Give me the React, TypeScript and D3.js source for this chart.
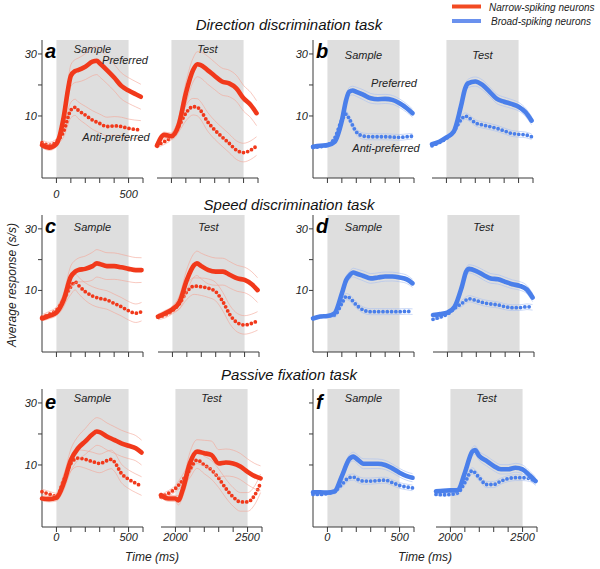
import React from 'react';
import * as d3 from 'd3';

type Pt = [number, number];

// ---------- Data (time in ms, response in s/s) ----------
// Panel a: direction task, narrow-spiking
const aPrefSample: Pt[] = [[-100,0.6],[-50,-0.2],[0,1.0],[50,9.5],[80,18.5],[100,23],[130,24.5],[150,24.8],[200,25.9],[250,27.5],[280,27.8],[300,27],[350,24.8],[400,22.4],[450,19.7],[500,18.2],[550,17],[585,16.2]];
const aAntiSample: Pt[] = [[-100,1.4],[-50,0.6],[0,1.7],[50,5],[100,11.9],[130,12.8],[150,11.9],[200,10.3],[250,8.7],[300,7.6],[350,6.6],[400,6.8],[450,6.6],[500,6],[585,5.5]];
const aPrefTest: Pt[] = [[1900,0.4],[1950,3.9],[2000,3.5],[2050,7.1],[2100,17.3],[2150,24.8],[2180,26.7],[2200,26.5],[2250,24.8],[2300,22.9],[2350,21.1],[2400,20.5],[2450,18.9],[2500,15.7],[2550,13.5],[2590,10.9]];
const aAntiTest: Pt[] = [[1900,0.6],[1950,1.7],[2000,3.3],[2050,6.6],[2100,10.9],[2150,13],[2180,12.8],[2200,11.9],[2250,8.2],[2300,5.5],[2350,3.3],[2400,1.2],[2450,-1],[2500,-1.8],[2550,-1],[2590,0.3]];

// Panel b: direction task, broad-spiking
const bPrefSample: Pt[] = [[-100,0.1],[-50,0.4],[0,0.6],[50,1.7],[100,8.5],[130,15.2],[150,17.8],[175,18.2],[200,17.8],[250,16.8],[300,15.7],[350,15.4],[400,15.5],[450,15.2],[500,14.1],[550,12.5],[590,10.9]];
const bAntiSample: Pt[] = [[-100,-0.2],[-50,0.1],[0,0.6],[50,2.8],[100,8.7],[130,10.6],[150,9.2],[200,4.9],[250,3.5],[300,3.3],[350,3.3],[400,3.3],[450,3.2],[500,3.1],[550,3.3],[590,3.5]];
const bPrefTest: Pt[] = [[1900,0.9],[1950,1.7],[2000,3.1],[2050,4.9],[2100,13],[2130,18.9],[2150,20.5],[2200,21.1],[2250,20],[2300,17.8],[2350,15.5],[2400,14.6],[2450,13.9],[2500,13],[2550,11.1],[2590,8.5]];
const bAntiTest: Pt[] = [[1900,0.4],[1950,1.4],[2000,2.8],[2050,4.9],[2100,8.7],[2130,10],[2150,9.6],[2200,7.8],[2250,7.1],[2300,6.6],[2350,6],[2400,5.2],[2450,4.4],[2500,4.1],[2550,3.9],[2590,3.3]];

// Panel c: speed task, narrow-spiking
const cPrefSample: Pt[] = [[-100,0.9],[-50,1.7],[0,2.8],[50,6.9],[100,14.5],[130,16.1],[150,16.6],[200,17],[250,17.9],[280,18.8],[300,18.6],[350,17.9],[400,17.9],[450,17.5],[500,17],[550,16.6],[590,16.6]];
const cAntiSample: Pt[] = [[-100,1.3],[-50,2.3],[0,3.6],[50,6.9],[100,11.2],[130,12.8],[150,11.8],[200,9.6],[250,8.2],[300,7.4],[350,6.9],[400,5.8],[450,4.7],[500,3.4],[550,2.6],[590,3.1]];
const cPrefTest: Pt[] = [[1900,1.5],[1950,2.6],[2000,3.9],[2050,6.3],[2100,13.4],[2150,18.2],[2170,18.8],[2200,17.9],[2250,16.6],[2300,16.1],[2350,16.1],[2400,15],[2450,13.9],[2500,13.4],[2550,12],[2590,10.1]];
const cAntiTest: Pt[] = [[1900,1.3],[1950,2],[2000,3.4],[2050,5.8],[2100,9.6],[2150,11.4],[2200,11.2],[2250,10.7],[2300,9.6],[2350,6.3],[2400,2],[2450,-0.5],[2500,-1.2],[2550,-0.7],[2590,0.1]];

// Panel d: speed task, broad-spiking
const dPrefSample: Pt[] = [[-100,0.9],[-50,1.5],[0,1.7],[50,2.6],[100,9],[130,13.4],[150,14.7],[180,15.8],[200,15.5],[250,14.7],[300,13.9],[350,14.2],[400,14.5],[450,14.5],[500,14.2],[550,13.6],[590,12.3]];
const dAntiSample: Pt[] = [[-100,0.9],[-50,1.5],[0,1.7],[50,2],[100,5.8],[130,8],[150,7.7],[200,5.3],[250,3.6],[300,3.1],[350,3.1],[400,3.1],[450,3.1],[500,3.1],[550,3.2],[590,3.1]];
const dPrefTest: Pt[] = [[1900,2],[1950,2.3],[2000,2.8],[2050,4.7],[2100,11.2],[2130,16.1],[2150,17],[2200,16.3],[2250,15],[2300,13.9],[2350,13.6],[2400,12.8],[2450,12],[2500,11.5],[2550,10.3],[2590,7.7]];
const dAntiTest: Pt[] = [[1900,0.6],[1950,1.3],[2000,2.3],[2050,4.2],[2100,5.8],[2150,7.3],[2200,6.7],[2250,6],[2300,5.6],[2350,5.3],[2400,4.7],[2450,4.4],[2500,4.4],[2550,4.7],[2590,4.5]];

// Panel e: passive fixation, narrow-spiking
const ePrefSample: Pt[] = [[-100,-0.8],[-50,-1],[0,-0.6],[50,4.1],[100,11.6],[150,15.4],[200,17.6],[250,19.9],[280,20.8],[300,20.6],[350,19.2],[400,18.1],[450,17],[500,16.2],[550,15.4],[590,14]];
const eAntiSample: Pt[] = [[-100,1.4],[-50,0.6],[0,-0.1],[50,5.1],[100,10.5],[150,12.2],[200,11.8],[250,11.1],[300,10.5],[350,11.4],[380,11.8],[400,11.1],[450,7.3],[500,5.4],[550,4.1],[590,3.2]];
const ePrefTest: Pt[] = [[1900,0.3],[1950,-0.8],[2000,-0.8],[2020,-1.4],[2050,1.9],[2100,10.5],[2150,14.3],[2200,13.8],[2250,13.2],[2300,10.5],[2350,10.8],[2400,10.5],[2450,9.5],[2500,7.8],[2550,6.4],[2590,5.7]];
const eAntiTest: Pt[] = [[1900,-0.3],[1950,0.8],[2000,2.4],[2050,5.1],[2100,8.4],[2150,11.6],[2200,10],[2250,8.4],[2300,5.7],[2350,2.4],[2400,-0.3],[2450,-1.9],[2500,-1.9],[2550,0.3],[2590,4.1]];

// Panel f: passive fixation, broad-spiking
const fPrefSample: Pt[] = [[-100,1.2],[-50,1.2],[0,1.1],[50,1.5],[100,6.4],[150,11.8],[180,12.7],[200,12.1],[250,10.4],[300,10.4],[350,10.4],[400,10],[450,8.9],[500,7.5],[550,6.4],[590,5.9]];
const fAntiSample: Pt[] = [[-100,0.5],[-50,0.5],[0,0.8],[50,1.5],[100,3.7],[150,5.9],[180,6.1],[200,5.6],[250,4.8],[300,4.8],[350,5],[400,5.1],[450,4.3],[500,3.4],[550,2.9],[590,2.6]];
const fPrefTest: Pt[] = [[1900,1.5],[1950,1.7],[2000,1.8],[2050,1.8],[2100,7.5],[2150,14.2],[2170,14.8],[2200,12.9],[2250,11.3],[2300,9.7],[2350,8.6],[2400,8.6],[2450,9.1],[2500,8.6],[2550,6.6],[2590,4.8]];
const fAntiTest: Pt[] = [[1900,0.5],[1950,0.4],[2000,0.5],[2050,1],[2100,4.3],[2150,8.1],[2200,5.9],[2250,3.7],[2300,3.7],[2350,4.8],[2400,5.6],[2450,5.9],[2500,5.9],[2550,5.6],[2590,4.5]];

// Standard error (time relative to stimulus onset, s/s)
const semNarrowPref: Pt[] = [[-100,0.8],[0,1],[100,3.5],[250,4.5],[600,4]];
const semNarrowAnti: Pt[] = [[-100,0.8],[0,1],[100,2.5],[250,3],[600,3]];
const semBroadPref: Pt[] = [[-100,0.3],[0,0.4],[100,1.2],[250,1.6],[600,1.3]];
const semBroadAnti: Pt[] = [[-100,0.3],[0,0.4],[100,1],[250,1],[600,0.9]];

// Axes
const sampleDomain = [-100, 600];
const testDomain = [1900, 2600];
const sampleTicks = [0, 100, 200, 300, 400, 500, 600];
const testTicks = [2000, 2100, 2200, 2300, 2400, 2500, 2600];
const sampleTickLabels = [0, 500];
const testTickLabels = [2000, 2500];
const yTicks = [10, 20, 30];
const yTickLabels = [10, 30];
const yDomain = [-10, 34.5];
const sampleEpoch = [0, 500];
const testEpoch = [2000, 2500];

const taskTitles = ['Direction discrimination task', 'Speed discrimination task', 'Passive fixation task'];
const legendItems = ['Narrow-spiking neurons', 'Broad-spiking neurons'];

// ---------- Styling / layout ----------
const RED = '#f1391b';
const BLUE = '#4a7fea';
const RED_FAINT = '#f3a595';
const BLUE_FAINT = '#a8bff2';
const FONT = 'Liberation Sans, Arial, Helvetica, sans-serif';
const AXIS = '#3a3a3a';

const cols = [{ x0: 42, gap: 115 }, { x0: 313, gap: 119 }];
const rows = [
  { top: 40, bottom: 178, labelDy: 20, letterY: 58, epochY: 53, testDx: 0 },
  { top: 215, bottom: 352, labelDy: 20, letterY: 233, epochY: 231, testDx: 1 },
  { top: 389, bottom: 527, labelDy: 14, letterY: 409, epochY: 402, testDx: 4 },
];
const W = 101;

type Panel = {
  id: string; row: number; col: number; color: string; faint: string;
  prefS: Pt[]; antiS: Pt[]; prefT: Pt[]; antiT: Pt[];
  semP: Pt[]; semA: Pt[]; yLabels: boolean; xLabels: boolean;
};

const panels: Panel[] = [
  { id: 'a', row: 0, col: 0, color: RED, faint: RED_FAINT, prefS: aPrefSample, antiS: aAntiSample, prefT: aPrefTest, antiT: aAntiTest, semP: semNarrowPref, semA: semNarrowAnti, yLabels: true, xLabels: true },
  { id: 'b', row: 0, col: 1, color: BLUE, faint: BLUE_FAINT, prefS: bPrefSample, antiS: bAntiSample, prefT: bPrefTest, antiT: bAntiTest, semP: semBroadPref, semA: semBroadAnti, yLabels: true, xLabels: false },
  { id: 'c', row: 1, col: 0, color: RED, faint: RED_FAINT, prefS: cPrefSample, antiS: cAntiSample, prefT: cPrefTest, antiT: cAntiTest, semP: semNarrowPref, semA: semNarrowAnti, yLabels: true, xLabels: false },
  { id: 'd', row: 1, col: 1, color: BLUE, faint: BLUE_FAINT, prefS: dPrefSample, antiS: dAntiSample, prefT: dPrefTest, antiT: dAntiTest, semP: semBroadPref, semA: semBroadAnti, yLabels: true, xLabels: false },
  { id: 'e', row: 2, col: 0, color: RED, faint: RED_FAINT, prefS: ePrefSample, antiS: eAntiSample, prefT: ePrefTest, antiT: eAntiTest, semP: semNarrowPref, semA: semNarrowAnti, yLabels: true, xLabels: true },
  { id: 'f', row: 2, col: 1, color: BLUE, faint: BLUE_FAINT, prefS: fPrefSample, antiS: fAntiSample, prefT: fPrefTest, antiT: fAntiTest, semP: semBroadPref, semA: semBroadAnti, yLabels: false, xLabels: true },
];

function semScale(s: Pt[]) {
  return d3.scaleLinear().domain(s.map(d => d[0])).range(s.map(d => d[1])).clamp(true);
}

function Sub({ data, x, y, color, faint, sem, offset, dotted }: any) {
  const line = d3.line<Pt>().x(d => x(d[0])).y(d => y(d[1])).curve(d3.curveMonotoneX);
  const s = semScale(sem);
  const up: Pt[] = data.map((d: Pt) => [d[0], d[1] + s(d[0] - offset)] as Pt);
  const lo: Pt[] = data.map((d: Pt) => [d[0], d[1] - s(d[0] - offset)] as Pt);
  return (
    <g>
      <path d={line(up) || ''} fill="none" stroke={faint} strokeWidth={0.8} opacity={0.75} />
      <path d={line(lo) || ''} fill="none" stroke={faint} strokeWidth={0.8} opacity={0.75} />
      {dotted ? (
        <path d={line(data) || ''} fill="none" stroke={color} strokeWidth={3.8} strokeLinecap="round" strokeDasharray="0 4.3" />
      ) : (
        <path d={line(data) || ''} fill="none" stroke={color} strokeWidth={4.6} strokeLinecap="round" strokeLinejoin="round" />
      )}
    </g>
  );
}

function PanelView({ p }: { p: Panel }) {
  const c = cols[p.col];
  const r = rows[p.row];
  const tx0 = c.x0 + c.gap + r.testDx;
  const xs = d3.scaleLinear().domain(sampleDomain).range([c.x0, c.x0 + W]);
  const xt = d3.scaleLinear().domain(testDomain).range([tx0, tx0 + W]);
  const y = d3.scaleLinear().domain(yDomain).range([r.bottom, r.top]);
  const tStyle = { fontFamily: FONT, fontStyle: 'italic' as const, fontSize: 11, fill: '#222' };
  const epochShift = p.col === 1 && p.row === 0 ? 6 : 0;
  return (
    <g>
      <rect x={xs(sampleEpoch[0])} y={r.top} width={xs(sampleEpoch[1]) - xs(sampleEpoch[0])} height={r.bottom - r.top} fill="#dedede" />
      <rect x={xt(testEpoch[0])} y={r.top} width={xt(testEpoch[1]) - xt(testEpoch[0])} height={r.bottom - r.top} fill="#dedede" />
      {/* y axis */}
      <line x1={c.x0} x2={c.x0} y1={r.top} y2={r.bottom} stroke={AXIS} strokeWidth={1} />
      {yTicks.map(t => (
        <line key={t} x1={c.x0 - 4} x2={c.x0} y1={y(t)} y2={y(t)} stroke={AXIS} strokeWidth={1} />
      ))}
      {p.yLabels && yTickLabels.map(t => (
        <text key={t} x={c.x0 - 5} y={y(t)} dy="0.35em" textAnchor="end" {...tStyle}>{t}</text>
      ))}
      {/* x axes */}
      <line x1={c.x0} x2={c.x0 + W} y1={r.bottom} y2={r.bottom} stroke={AXIS} strokeWidth={1} />
      <line x1={tx0} x2={tx0 + W} y1={r.bottom} y2={r.bottom} stroke={AXIS} strokeWidth={1} />
      {sampleTicks.map(t => (
        <line key={'s' + t} x1={xs(t)} x2={xs(t)} y1={r.bottom} y2={r.bottom + 5} stroke={AXIS} strokeWidth={1} />
      ))}
      {testTicks.map(t => (
        <line key={'t' + t} x1={xt(t)} x2={xt(t)} y1={r.bottom} y2={r.bottom + 5} stroke={AXIS} strokeWidth={1} />
      ))}
      {p.xLabels && sampleTickLabels.map(t => (
        <text key={'sl' + t} x={xs(t)} y={r.bottom + r.labelDy} textAnchor="middle" {...tStyle}>{t}</text>
      ))}
      {p.xLabels && p.row === 2 && testTickLabels.map(t => (
        <text key={'tl' + t} x={xt(t)} y={r.bottom + r.labelDy} textAnchor="middle" {...tStyle}>{t}</text>
      ))}
      {/* epoch labels */}
      <text x={(xs(sampleEpoch[0]) + xs(sampleEpoch[1])) / 2} y={r.epochY + epochShift} textAnchor="middle" {...tStyle}>Sample</text>
      <text x={(xt(testEpoch[0]) + xt(testEpoch[1])) / 2} y={r.epochY + epochShift} textAnchor="middle" {...tStyle}>Test</text>
      {/* traces */}
      <Sub data={p.antiS} x={xs} y={y} color={p.color} faint={p.faint} sem={p.semA} offset={0} dotted />
      <Sub data={p.prefS} x={xs} y={y} color={p.color} faint={p.faint} sem={p.semP} offset={0} />
      <Sub data={p.antiT} x={xt} y={y} color={p.color} faint={p.faint} sem={p.semA} offset={2000} dotted />
      <Sub data={p.prefT} x={xt} y={y} color={p.color} faint={p.faint} sem={p.semP} offset={2000} />
      {/* panel letter */}
      <text x={c.x0 + 3} y={r.letterY} fontFamily={FONT} fontWeight="bold" fontStyle="italic" fontSize={20} fill="#000">{p.id}</text>
      {p.xLabels && p.row === 2 && (
        <text x={(c.x0 + tx0 + W) / 2} y={561} textAnchor="middle" fontFamily={FONT} fontStyle="italic" fontSize={12} fill="#222">Time (ms)</text>
      )}
    </g>
  );
}

export default function App() {
  const titleY = [30, 210, 380];
  const ann = { fontFamily: FONT, fontStyle: 'italic' as const, fontSize: 11, fill: '#222' };
  return (
    <svg width={600} height={569} style={{ position: 'absolute', left: 0, top: 0, background: '#fff' }}>
      {panels.map(p => <PanelView key={p.id} p={p} />)}
      {taskTitles.map((t, i) => (
        <text key={t} x={289} y={titleY[i]} textAnchor="middle" fontFamily={FONT} fontStyle="italic" fontSize={15} fill="#111">{t}</text>
      ))}
      {/* annotations */}
      <text x={125} y={64} textAnchor="middle" {...ann}>Preferred</text>
      <text x={116} y={141} textAnchor="middle" {...ann}>Anti-preferred</text>
      <text x={394} y={87} textAnchor="middle" {...ann}>Preferred</text>
      <text x={386} y={152} textAnchor="middle" {...ann}>Anti-preferred</text>
      {/* y label */}
      <text transform="translate(16,285) rotate(-90)" textAnchor="middle" fontFamily={FONT} fontStyle="italic" fontSize={12} fill="#222">Average response (s/s)</text>
      {/* legend */}
      {legendItems.map((t, i) => (
        <g key={t}>
          <line x1={452} x2={481} y1={6.5 + i * 14.5} y2={6.5 + i * 14.5} stroke={i === 0 ? '#f24a22' : '#6a91ee'} strokeWidth={4} />
          <text x={489 + i * 2} y={10.5 + i * 14.5} fontFamily={FONT} fontStyle="italic" fontSize={10} fill="#222">{t}</text>
        </g>
      ))}
    </svg>
  );
}
